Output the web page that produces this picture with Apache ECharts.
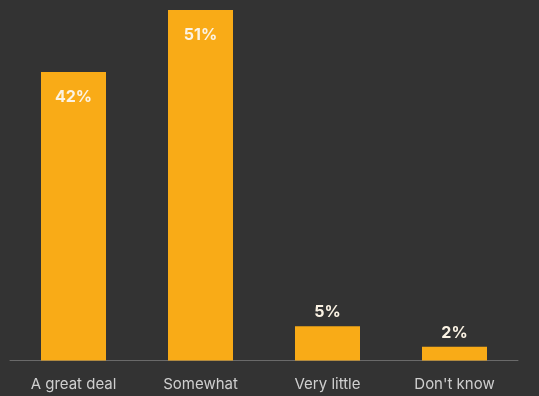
<!DOCTYPE html>
<html><head><meta charset="utf-8">
<script src="https://cdn.jsdelivr.net/npm/echarts@6/dist/echarts.min.js"></script>
<style>html,body{margin:0;padding:0;background:#333333;}#c{width:539px;height:396px;}</style>
</head><body><div id="c"></div>
<script>
const categories = ["A great deal", "Somewhat", "Very little", "Don't know"];
const values = [42, 51, 5, 2];
const labelInside = [true, true, false, false];

const chart = echarts.init(document.getElementById('c'));
chart.setOption({
  backgroundColor: '#333333',
  animation: false,
  grid: {left: 10, right: 21, top: 8, bottom: 35.5},
  xAxis: {
    type: 'category', data: categories,
    axisLine: {lineStyle: {color: '#6a6a6a', width: 1}},
    axisTick: {show: false},
    axisLabel: {color: '#cfcfcf', fontSize: 15, fontFamily: 'Inter', margin: 16}
  },
  yAxis: {type: 'value', min: 0, max: 51.3, show: false, splitLine: {show: false}},
  series: [{
    type: 'bar', barWidth: 65,
    itemStyle: {color: '#f9ab17'},
    data: values.map((v, i) => ({
      value: v,
      label: labelInside[i]
        ? {show: true, position: 'insideTop', distance: 17}
        : {show: true, position: 'top', distance: 6}
    })),
    label: {formatter: '{c}%', color: '#fbf3e4', fontSize: 16, fontWeight: 'bold', fontFamily: 'Inter'}
  }]
});
</script></body></html>
